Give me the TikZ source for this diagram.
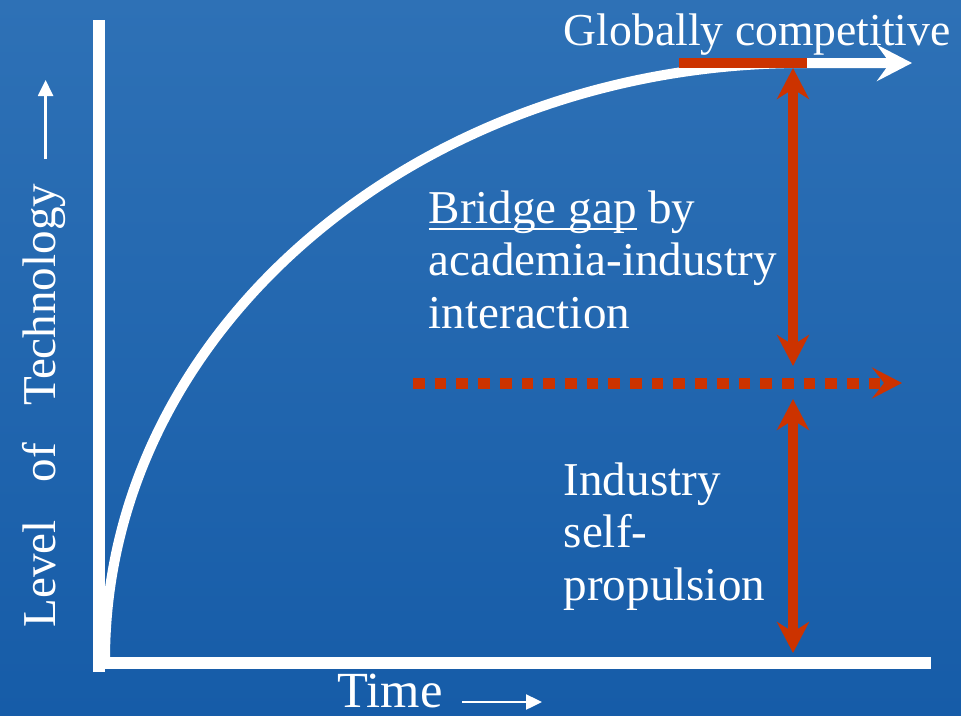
\documentclass[tikz,border=0pt]{standalone}
\usepackage{fontspec}
\setmainfont{Liberation Serif}
\usetikzlibrary{arrows.meta}
\usetikzlibrary{positioning}
\definecolor{bgtop}{RGB}{46,113,182}
\definecolor{bgbottom}{RGB}{22,92,168}
\definecolor{mred}{RGB}{204,51,0}

\tikzset{
  axisline/.style={white, line width=0.12cm},
  curveline/.style={white, line width=0.10cm, -{Stealth[length=0.35cm, width=0.36cm, inset=0.13cm]}},
  redbar/.style={mred, line width=0.10cm},
  gaparrow/.style={mred, line width=0.10cm,
    {Stealth[length=0.31cm, width=0.32cm, inset=0.10cm]}-{Stealth[length=0.31cm, width=0.32cm, inset=0.10cm]}},
  levelline/.style={mred, line width=0.11cm, dash pattern=on 0.117cm off 0.10cm,
    -{Stealth[length=0.30cm, width=0.31cm, inset=0.12cm]}},
  thinarrow/.style={white, line width=0.7pt, -{Triangle[length=0.16cm, width=0.15cm]}},
  lbl/.style={white, inner sep=0pt, anchor=base west, align=left,
    font=\fontsize{13.4}{14.8}\selectfont}
}

\begin{document}
\begin{tikzpicture}
      \useasboundingbox (0, 0) rectangle (9.61, 7.15);
      \shade [top color=bgtop, bottom color=bgbottom] (0, 0) rectangle (9.61, 7.15);

      % axes
      \coordinate (ytop) at (0.99, 6.95);
      \coordinate (origin) at (0.99, 0.43);
      \coordinate (xleft) at (0.93, 0.525);
      \coordinate (xright) at (9.31, 0.525);
      \draw [axisline] (origin) -- (ytop);
      \draw [axisline] (xleft) -- (xright);

      % growth curve
      \coordinate (cstart) at (1.05, 0.55);
      \coordinate (cend) at (9.12, 6.52);
      \draw [curveline] (cstart) arc [start angle=180, end angle=90, x radius=6.99, y radius=5.97] -- (cend);

      % target level
      \coordinate (barl) at (6.79, 6.52);
      \coordinate (barr) at (8.07, 6.52);
      \draw [redbar] (barl) -- (barr);

      % present level
      \coordinate (lvll) at (4.13, 3.32);
      \coordinate (lvlr) at (9.02, 3.32);
      \draw [levelline] (lvll) -- (lvlr);

      \coordinate (gtop) at (7.93, 6.47);
      \coordinate (gmid) at (7.93, 3.49);
      \coordinate (stop) at (7.93, 3.16);
      \coordinate (sbot) at (7.93, 0.62);
      \draw [gaparrow] (gtop) -- (gmid);
      \draw [gaparrow] (stop) -- (sbot);

      % labels (multi-line ones sit on their last line)
      \node [lbl, font=\fontsize{13.0}{14.8}\selectfont] (gcomp) at (5.63, 6.70) {Globally competitive};
      \node [lbl] (bridge) at (4.28, 3.87) {\underline{\smash{Bridge gap}} by\\academia-industry\\interaction};
      \node [lbl] (selfprop) at (5.63, 1.15) {Industry\\self-\\propulsion};
      \node [lbl, font=\fontsize{14.4}{16}\selectfont] (timelbl) at (3.37, 0.08) {Time};
      \node [lbl, rotate=90] (levellbl) at (0.55, 0.87) {Level\hspace{0.8em}of\hspace{0.8em}Technology};

      \coordinate (tarrl) at (4.62, 0.13);
      \coordinate (tarrr) at (5.42, 0.13);
      \draw [thinarrow] (tarrl) -- (tarrr);
      \coordinate (larrb) at (0.456, 5.56);
      \coordinate (larrt) at (0.456, 6.35);
      \draw [thinarrow] (larrb) -- (larrt);
    \end{tikzpicture}
\end{document}
